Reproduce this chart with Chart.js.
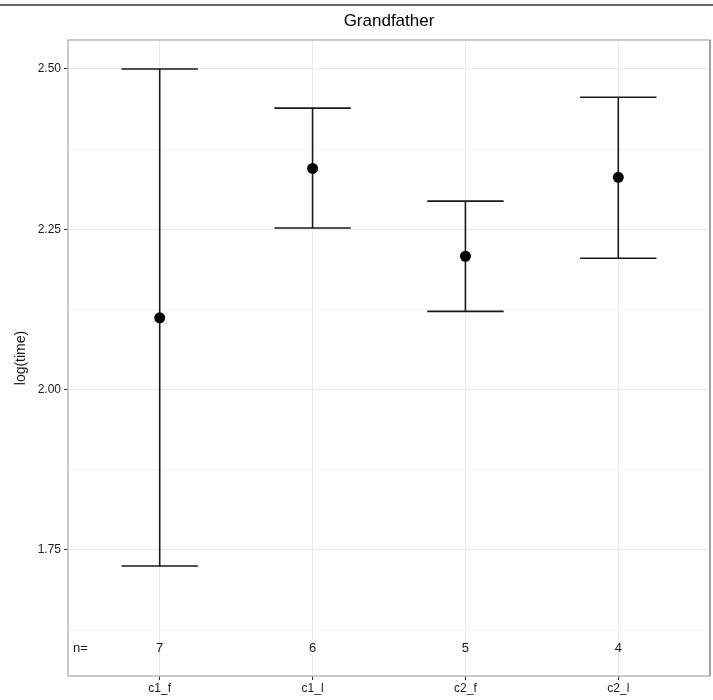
<!DOCTYPE html>
<html>
<head>
<meta charset="utf-8">
<title>Grandfather</title>
<script src="https://cdn.jsdelivr.net/npm/chart.js@4"></script>
<style>
  html, body { margin: 0; padding: 0; background: #fff; }
  canvas { display: block; }
</style>
</head>
<body>
<canvas id="chart" width="713" height="700"></canvas>
<script>
// group labels, means with their intervals, and sample sizes
const categories = ["c1_f", "c1_l", "c2_f", "c2_l"];
const means = [2.112, 2.345, 2.208, 2.331];
const lower = [1.725, 2.252, 2.122, 2.205];
const upper = [2.500, 2.439, 2.294, 2.456];
const counts = [7, 6, 5, 4];
const yTicks = [1.75, 2.00, 2.25, 2.50];
const yMinor = [1.625, 1.875, 2.125, 2.375];

const FONT = "'Liberation Sans', Arial, Helvetica, sans-serif";
const nLabelY = 1.597; // height of the "n=" row

const isMajor = (v) => yTicks.some((t) => Math.abs(t - v) < 1e-9);

// error bars, panel border, counts row, title, top rule
const decorations = {
  id: "decorations",
  beforeDatasetsDraw(chart) {
    const { ctx, scales: { x, y } } = chart;
    ctx.save();
    ctx.strokeStyle = "#1a1a1a";
    ctx.lineWidth = 1.6;
    categories.forEach((c, i) => {
      const cx = x.getPixelForValue(i + 1);
      const x0 = x.getPixelForValue(i + 1 - 0.25);
      const x1 = x.getPixelForValue(i + 1 + 0.25);
      const yl = y.getPixelForValue(lower[i]);
      const yu = y.getPixelForValue(upper[i]);
      ctx.beginPath();
      ctx.moveTo(cx, yl);
      ctx.lineTo(cx, yu);
      ctx.moveTo(x0, yl);
      ctx.lineTo(x1, yl);
      ctx.moveTo(x0, yu);
      ctx.lineTo(x1, yu);
      ctx.stroke();
    });

    // sample size row
    ctx.fillStyle = "#1a1a1a";
    ctx.font = "13px " + FONT;
    ctx.textBaseline = "middle";
    const ny = y.getPixelForValue(nLabelY);
    ctx.textAlign = "left";
    ctx.fillText("n=", x.getPixelForValue(0.433), ny);
    ctx.textAlign = "center";
    counts.forEach((n, i) => {
      ctx.fillText(String(n), x.getPixelForValue(i + 1), ny);
    });
    ctx.restore();
  },
  afterDraw(chart) {
    const { ctx, chartArea: a } = chart;
    ctx.save();
    ctx.strokeStyle = "#b5b5b5";
    ctx.lineWidth = 1.4;
    ctx.strokeRect(a.left, a.top, a.right - a.left, a.bottom - a.top);
    // slightly heavier right edge
    ctx.strokeStyle = "#a0a0a0";
    ctx.lineWidth = 2;
    ctx.beginPath();
    ctx.moveTo(a.right, a.top);
    ctx.lineTo(a.right, a.bottom);
    ctx.stroke();

    ctx.strokeStyle = "#333333";
    ctx.lineWidth = 1.4;
    ctx.beginPath();
    ctx.moveTo(0, 5);
    ctx.lineTo(chart.width, 5);
    ctx.stroke();

    ctx.fillStyle = "#000";
    ctx.font = "17px " + FONT;
    ctx.textAlign = "center";
    ctx.textBaseline = "middle";
    ctx.fillText("Grandfather", (a.left + a.right) / 2, 21);
    ctx.restore();
  },
};

new Chart(document.getElementById("chart"), {
  type: "scatter",
  data: {
    datasets: [
      {
        data: means.map((m, i) => ({ x: i + 1, y: m })),
        backgroundColor: "#000",
        borderColor: "#000",
        pointRadius: 5.5,
        pointHoverRadius: 5.5,
        borderWidth: 0,
      },
    ],
  },
  options: {
    responsive: false,
    animation: false,
    events: [],
    layout: { autoPadding: false, padding: { top: 40, right: 3, left: 0, bottom: 0 } },
    scales: {
      x: {
        type: "linear",
        min: 0.4,
        max: 4.6,
        afterBuildTicks: (scale) => {
          scale.ticks = categories.map((c, i) => ({ value: i + 1 }));
        },
        afterFit: (scale) => {
          scale.height = 24;
        },
        ticks: {
          callback: (v) => categories[Math.round(v) - 1],
          color: "#1a1a1a",
          font: { family: FONT, size: 12 },
          padding: 1,
          maxRotation: 0,
        },
        grid: {
          color: "#ebebeb",
          lineWidth: 1,
          tickColor: "#333333",
          tickLength: 4,
        },
        border: { display: false },
      },
      y: {
        type: "linear",
        min: 1.5535,
        max: 2.5452,
        afterBuildTicks: (scale) => {
          scale.ticks = [...yTicks, ...yMinor]
            .sort((a, b) => a - b)
            .map((v) => ({ value: v }));
        },
        afterFit: (scale) => {
          scale.width = 68;
        },
        ticks: {
          callback: (v) => (isMajor(v) ? v.toFixed(2) : ""),
          color: "#1a1a1a",
          font: { family: FONT, size: 12 },
          padding: 3,
        },
        grid: {
          color: (ctx) => (isMajor(ctx.tick.value) ? "#ebebeb" : "#f4f4f4"),
          lineWidth: (ctx) => (isMajor(ctx.tick.value) ? 1 : 0.8),
          tickColor: (ctx) => (isMajor(ctx.tick.value) ? "#333333" : "rgba(0,0,0,0)"),
          tickLength: 4,
        },
        border: { display: false },
        title: {
          display: true,
          text: "log(time)",
          color: "#1a1a1a",
          font: { family: FONT, size: 14 },
          padding: { top: 13, bottom: 0 },
        },
      },
    },
    plugins: {
      legend: { display: false },
      tooltip: { enabled: false },
      title: { display: false },
    },
  },
  plugins: [decorations],
});
</script>
</body>
</html>
